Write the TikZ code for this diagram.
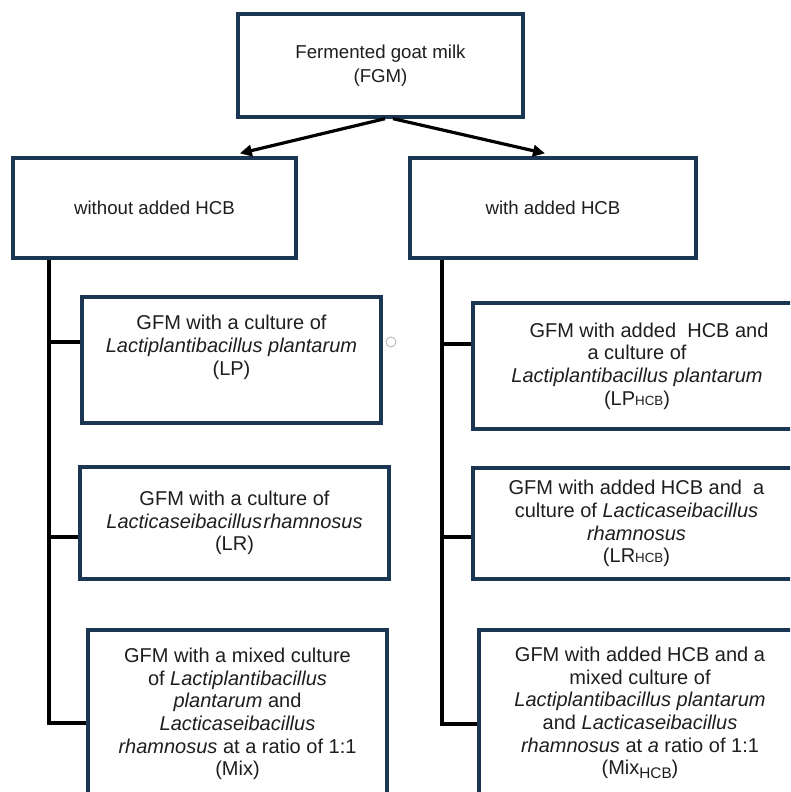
\documentclass[tikz,border=0pt]{standalone}
\usepackage{fontspec}
\setmainfont{Liberation Sans}
\usetikzlibrary{arrows.meta}

\definecolor{boxnavy}{RGB}{27,54,82}
\definecolor{inkgray}{RGB}{30,30,30}

\newcommand{\hcbsub}{{\fontsize{10}{10}\selectfont HCB}}
\newcommand{\hcblow}{\raisebox{-3pt}{\fontsize{11.5}{11.5}\selectfont HCB}}

\tikzset{
  boxsize/.style n args={2}{minimum width=#1*0.75pt, minimum height=#2*0.75pt},
}

\begin{document}
\begin{tikzpicture}[
    x=0.75pt, y=-0.75pt,
    root/.style={
      rectangle, draw=boxnavy, line width=2.5pt, fill=white,
      text=inkgray, font=\fontsize{14}{18}\selectfont, align=center,
    },
    sample/.style={
      rectangle, draw=boxnavy, line width=2.5pt, fill=white,
      text=inkgray, font=\fontsize{15}{17}\selectfont, align=center,
      inner sep=2pt,
    },
    split/.style={-{Triangle[length=9pt,width=8.5pt]}, line width=2.4pt, black},
    trunk/.style={line width=2.4pt, black},
    handle/.style={circle, draw=gray!55, line width=0.7pt, minimum size=7.5pt, inner sep=0pt},
]

\useasboundingbox (0,0) rectangle (790,792);
\fill[white] (0,0) rectangle (790,792);
\clip (0,0) rectangle (790,792);

% Top and the two groups
\node[root, boxsize={285}{103}] (fgm)     at (380.5,65.5) {Fermented goat milk\\(FGM)};
\node[root, boxsize={283}{100}] (noHCB)   at (154.5,208)  {without added HCB};
\node[root, boxsize={286}{100}] (withHCB) at (553,208)    {with added HCB};

% Samples without HCB
\node[sample, boxsize={299}{126}] (lp) at (231.5,360)
  {GFM with a culture of\\\textit{Lactiplantibacillus plantarum}\\(LP)\rule[-22pt]{0pt}{22pt}};
\node[sample, boxsize={309}{112}] (lr) at (234.5,523)
  {GFM with a culture of\\\textit{Lacticaseibacillus}\hspace{0.08em}\textit{rhamnosus}\\(LR)};
\node[sample, boxsize={299}{168}] (mix) at (237.5,714)
  {GFM with a mixed culture\\of \textit{Lactiplantibacillus}\\\textit{plantarum} and\\\textit{Lacticaseibacillus}\\\textit{rhamnosus} at a ratio of 1:1\\(Mix)};

% Samples with HCB
\node[sample, boxsize={328}{126}] (lpHCB) at (637,366)
  {\hspace{1.2em}GFM with added~~HCB and\\a culture of\\\textit{Lactiplantibacillus plantarum}\\(LP\hcbsub)};
\node[sample, boxsize={327}{111}] (lrHCB) at (636.5,523.5)
  {GFM with added HCB and~~a\\culture of \textit{Lacticaseibacillus}\\\textit{rhamnosus}\\(LR\hcbsub)};
\node[sample, boxsize={322}{166}] (mixHCB) at (640,713)
  {GFM with added HCB and a\\mixed culture of\\\textit{Lactiplantibacillus plantarum}\\and \textit{Lacticaseibacillus}\\\textit{rhamnosus} at \textit{a} ratio of 1:1\\(Mix\hcblow)};

% Stray selection handle
\node[handle] (grip) at (391,342) {};

% Split arrows
\draw[split] ([xshift=3.4pt]fgm.south) -- ([xshift=64pt,yshift=2.2pt]noHCB.north);
\draw[split] ([xshift=9.4pt]fgm.south) -- ([xshift=-6pt,yshift=2.2pt]withHCB.north);

% Branch points
\coordinate (l1) at (49,342);
\coordinate (l2) at (49,537);
\coordinate (l3) at (49,723);
\coordinate (r1) at (442,344);
\coordinate (r2) at (442,537);
\coordinate (r3) at (442,724);

% Left tree
\draw[trunk] (noHCB.south -| l3) -- (l3) -- (l3 -| mix.west);
\draw[trunk] (l1) -- (l1 -| lp.west);
\draw[trunk] (l2) -- (l2 -| lr.west);

% Right tree
\draw[trunk] (withHCB.south -| r3) -- (r3) -- (r3 -| mixHCB.west);
\draw[trunk] (r1) -- (r1 -| lpHCB.west);
\draw[trunk] (r2) -- (r2 -| lrHCB.west);
\end{tikzpicture}
\end{document}
